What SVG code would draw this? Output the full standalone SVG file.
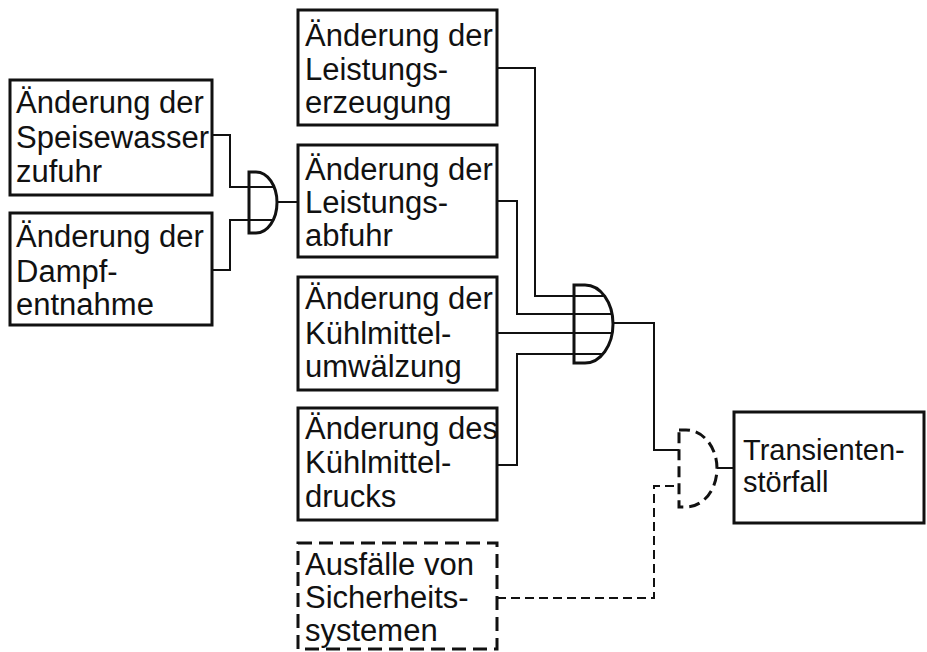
<svg xmlns="http://www.w3.org/2000/svg" width="927" height="652" viewBox="0 0 927 652">
<style>
.box{fill:#fff;stroke:#111;stroke-width:3}
.dbox{fill:#fff;stroke:#111;stroke-width:3;stroke-dasharray:14 7}
.gate{fill:none;stroke:#111;stroke-width:3}
.dgate{fill:none;stroke:#111;stroke-width:3;stroke-dasharray:11 6}
.wire{fill:none;stroke:#111;stroke-width:2}
.dwire{fill:none;stroke:#111;stroke-width:2;stroke-dasharray:9 5}
text{font-family:"Liberation Sans",Arial,sans-serif;font-size:31px;fill:#111}
.sm{font-size:29px}
</style>
<rect width="927" height="652" fill="#fff"/>
<g id="connectors">
<path class="wire" d="M212,135 H230 V187 H274"/>
<path class="wire" d="M212,270 H230 V220 H273"/>
<path class="wire" d="M277,202 H298"/>
<path class="wire" d="M497,68 H535 V296 H604"/>
<path class="wire" d="M497,201 H517 V314 H612"/>
<path class="wire" d="M498,333 H612"/>
<path class="wire" d="M497,465 H517 V354 H603"/>
<path class="wire" d="M613,323 H654 V450 H679"/>
<path class="wire" d="M717,468 H734"/>
<path class="dwire" d="M497,598 H654 V486 H679"/>
</g>
<g id="gate1"><path class="gate" d="M249,172 H256 A21,30.5 0 0 1 256,233 H249 Z"/></g>
<g id="gate2"><path class="gate" d="M574,285 H585 A28,39 0 0 1 585,363 H574 Z"/></g>
<g id="gate3"><path class="dgate" d="M679,430 H686 A31,38.5 0 0 1 686,507 H679 Z"/></g>
<g id="box-speisewasser">
<rect class="box" x="10" y="80" width="202" height="115"/>
<text x="16" y="113">Änderung der</text>
<text x="16" y="148">Speisewasser</text>
<text x="16" y="182">zufuhr</text>
</g>
<g id="box-dampf">
<rect class="box" x="10" y="213" width="202" height="112"/>
<text x="16" y="247">Änderung der</text>
<text x="16" y="282">Dampf-</text>
<text x="16" y="315">entnahme</text>
</g>
<g id="box-erzeugung">
<rect class="box" x="298" y="10" width="199" height="115"/>
<text x="305" y="46">Änderung der</text>
<text x="305" y="80">Leistungs-</text>
<text x="305" y="113">erzeugung</text>
</g>
<g id="box-abfuhr">
<rect class="box" x="298" y="145" width="199" height="112"/>
<text x="305" y="180">Änderung der</text>
<text x="305" y="213">Leistungs-</text>
<text x="305" y="246">abfuhr</text>
</g>
<g id="box-umwaelzung">
<rect class="box" x="298" y="277" width="199" height="113"/>
<text x="305" y="309">Änderung der</text>
<text x="305" y="344">Kühlmittel-</text>
<text x="305" y="377">umwälzung</text>
</g>
<g id="box-drucks">
<rect class="box" x="298" y="408" width="199" height="112"/>
<text x="305" y="439">Änderung des</text>
<text x="305" y="473">Kühlmittel-</text>
<text x="305" y="507">drucks</text>
</g>
<g id="box-sicherheit">
<rect class="dbox" x="298" y="543" width="199" height="106"/>
<text x="305" y="575">Ausfälle von</text>
<text x="305" y="608">Sicherheits-</text>
<text x="305" y="641">systemen</text>
</g>
<g id="box-transient">
<rect class="box" x="734" y="412" width="190" height="111"/>
<text class="sm" x="743" y="460">Transienten-</text>
<text class="sm" x="743" y="492">störfall</text>
</g>
</svg>
